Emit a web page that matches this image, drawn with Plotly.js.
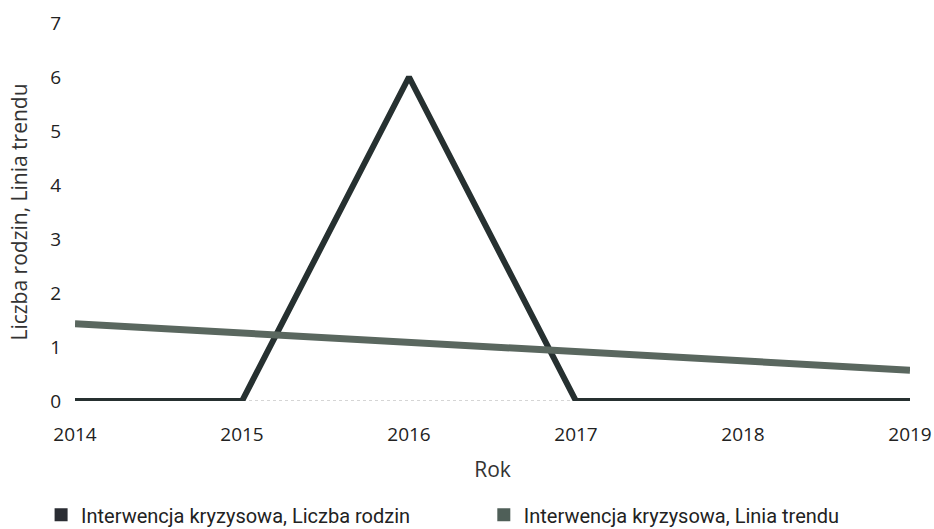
<!DOCTYPE html>
<html>
<head>
<meta charset="utf-8">
<script src="https://cdn.plot.ly/plotly-3.0.1.min.js"></script>
<style>html,body{margin:0;padding:0;background:#fff;}#chart{width:934px;height:529px;}</style>
</head>
<body>
<div id="chart"></div>
<script>
const years = [2014, 2015, 2016, 2017, 2018, 2019];
const liczbaRodzin = [0, 0, 6, 0, 0, 0];
const liniaTrendu = [1.43, 1.26, 1.09, 0.91, 0.74, 0.57];
const seriesNames = ['Interwencja kryzysowa, Liczba rodzin', 'Interwencja kryzysowa, Linia trendu'];
const colors = ['#263030', '#5a675f'];
const legendColors = ['#2a2d33', '#4f5f58'];

const font = 'Open Sans, Liberation Sans, sans-serif';

const traces = [
  {x: years, y: liczbaRodzin, mode: 'lines', name: seriesNames[0], showlegend: false,
   line: {color: colors[0], width: 6}, cliponaxis: false},
  {x: years, y: liniaTrendu, mode: 'lines', name: seriesNames[1], showlegend: false,
   line: {color: colors[1], width: 7}, cliponaxis: false},
  {x: [null], y: [null], mode: 'markers', name: seriesNames[0], legend: 'legend',
   marker: {symbol: 'square', size: 13, color: legendColors[0]}},
  {x: [null], y: [null], mode: 'markers', name: seriesNames[1], legend: 'legend2',
   marker: {symbol: 'square', size: 13, color: legendColors[1]}}
];

const legFont = {family: 'Roboto, sans-serif', size: 20, color: '#222'};

const layout = {
  width: 934, height: 529,
  margin: {l: 75, r: 24, t: 23, b: 128},
  paper_bgcolor: '#fff', plot_bgcolor: '#fff',
  font: {family: font, color: '#222', size: 19},
  showlegend: true,
  xaxis: {
    range: [2014, 2019], tickvals: years, ticktext: years.map(String),
    showgrid: false, zeroline: false, showline: false, automargin: false,
    ticks: 'outside', ticklen: 16, tickcolor: 'rgba(0,0,0,0)',
    tickfont: {size: 19, color: '#222'},
    title: {text: 'Rok', font: {size: 21, color: '#333'}, standoff: 16}
  },
  yaxis: {
    range: [0, 7], tickvals: [0,1,2,3,4,5,6,7],
    showgrid: false, zeroline: false, showline: false, automargin: false,
    ticks: 'outside', ticklen: 9, tickcolor: 'rgba(0,0,0,0)',
    tickfont: {size: 19, color: '#222'},
    title: {text: 'Liczba rodzin, Linia trendu', font: {size: 21, color: '#333'}, standoff: 16}
  },
  shapes: [{type: 'line', xref: 'paper', yref: 'y', x0: 0, x1: 1, y0: 0, y1: 0,
            line: {color: '#aaa', width: 1, dash: 'dot'}, layer: 'below'}],
  legend: {orientation: 'h', xref: 'container', x: 0.044, xanchor: 'left',
           yref: 'container', y: 0.027, yanchor: 'middle', font: legFont, itemclick: false},
  legend2: {orientation: 'h', xref: 'container', x: 0.518, xanchor: 'left',
           yref: 'container', y: 0.027, yanchor: 'middle', font: legFont, itemclick: false}
};

Plotly.newPlot('chart', traces, layout, {staticPlot: true, displayModeBar: false});
</script>
</body>
</html>
